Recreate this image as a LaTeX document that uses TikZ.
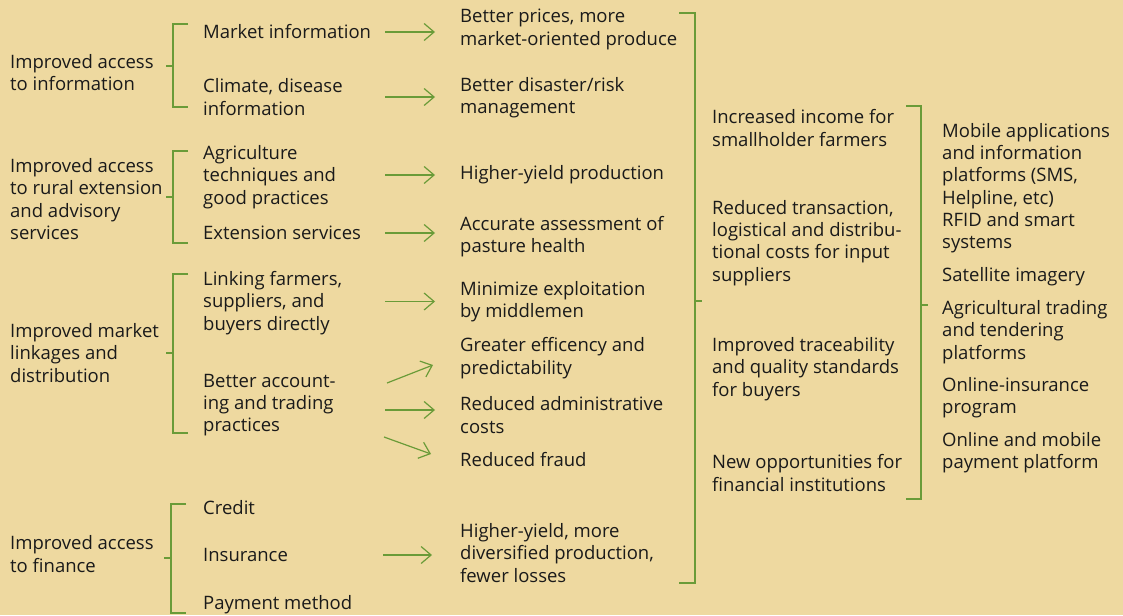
\documentclass[tikz,border=0pt]{standalone}
\usepackage{fontspec}
\setmainfont{Open Sans}
\usetikzlibrary{arrows.meta}
\definecolor{paper}{RGB}{238,217,160}
\definecolor{leaf}{RGB}{106,155,56}
\definecolor{ink}{RGB}{26,26,26}
\tikzset{
  txt/.style={anchor=west, align=left, inner sep=0pt, text=ink,
    font=\fontsize{18.5}{22.3}\selectfont},
  brk/.style={draw=leaf, line width=1.4pt},
  arr/.style={draw=leaf, line width=1.2pt, -{Straight Barb[length=10pt,width=17pt,line width=1.2pt]}}
}
\begin{document}
\begin{tikzpicture}[x=1pt,y=-1pt]
            % Paper and frame
            \fill[paper] (0,0) rectangle (1123,615);
            \useasboundingbox (0,0) rectangle (1123,615);

            % Areas of access
            \node[txt] (g1) at (10,72.5) {Improved access\\to information};
            \node[txt] (g2) at (10,199) {Improved access\\to rural extension\\and advisory\\services};
            \node[txt] (g3) at (10,353) {Improved market\\linkages and\\distribution};
            \node[txt] (g4) at (10,554) {Improved access\\to finance};

            % Services
            \node[txt] (mi) at (203,32) {Market information};
            \node[txt] (cd) at (203,97) {Climate, disease\\information};
            \node[txt] (ag) at (203,177) {Agriculture\\techniques and\\good practices};
            \node[txt] (es) at (203,233) {Extension services};
            \node[txt] (lf) at (203,303) {Linking farmers,\\suppliers, and\\buyers directly};
            \node[txt] (ba) at (203,405) {Better account-\\ing and trading\\practices};
            \node[txt] (cr) at (203,508) {Credit};
            \node[txt] (in) at (203,555) {Insurance};
            \node[txt] (pm) at (203,605) {Payment method};

            % Outcomes
            \node[txt] (bp) at (460,29.5) {Better prices, more\\market-oriented produce};
            \node[txt] (bd) at (460,97.5) {Better disaster/risk\\management};
            \node[txt] (hy) at (460,175) {Higher-yield production};
            \node[txt] (aa) at (460,236.5) {Accurate assessment of\\pasture health};
            \node[txt] (me) at (460,301.5) {Minimize exploitation\\by middlemen};
            \node[txt] (ge) at (460,358) {Greater efficency and\\predictability};
            \node[txt] (rc) at (460,415) {Reduced administrative\\costs};
            \node[txt] (rf) at (460,460) {Reduced fraud};
            \node[txt] (hd) at (460,553) {Higher-yield, more\\diversified production,\\fewer losses};

            % Benefits
            \node[txt] (ii) at (712,128) {Increased income for\\smallholder farmers};
            \node[txt] (rt) at (712,243) {Reduced transaction,\\logistical and distribu-\\tional costs for input\\suppliers};
            \node[txt] (it) at (712,369) {Improved traceability\\and quality standards\\for buyers};
            \node[txt] (no) at (712,473) {New opportunities for\\financial institutions};

            % Technologies
            \node[txt] (ma) at (942,166) {Mobile applications\\and information\\platforms (SMS,\\Helpline, etc)};
            \node[txt] (rs) at (942,233) {RFID and smart\\systems};
            \node[txt] (si) at (942,277) {Satellite imagery};
            \node[txt] (at) at (942,332) {Agricultural trading\\and tendering\\platforms};
            \node[txt] (oi) at (942,398) {Online-insurance\\program};
            \node[txt] (om) at (942,453) {Online and mobile\\payment platform};

            % Arrows from services to outcomes
            \draw[arr] ([xshift=-75pt]bp.west |- mi) -- ([xshift=-25pt]bp.west |- mi);
            \draw[arr] ([xshift=-75pt]bd.west |- cd) -- ([xshift=-25pt]bd.west |- cd);
            \draw[arr] ([xshift=-75pt]hy.west) -- ([xshift=-25pt]hy.west);
            \draw[arr] ([xshift=-75pt]aa.west |- es) -- ([xshift=-25pt]aa.west |- es);
            \draw[arr] ([xshift=-75pt]me.west) -- ([xshift=-25pt]me.west);
            \draw[arr] ([xshift=-73pt,yshift=22pt]ge.west |- ba) -- ([xshift=-27pt,yshift=-7pt]ge.west);
            \draw[arr] ([xshift=-75pt,yshift=-5pt]rc.west |- ba) -- ([xshift=-25pt,yshift=-5pt]rc.west |- ba);
            \draw[arr] ([xshift=-76pt,yshift=-32pt]rf.west |- ba) -- ([xshift=-29pt,yshift=6pt]rf.west);
            \draw[arr] ([xshift=-77pt]hd.west |- in) -- ([xshift=-28pt]hd.west |- in);

            % Brackets on the left
            \draw[brk] (188,24) -| (173,107) -- (188,107);
            \draw[brk] (166,66) -- (173,66);
            \draw[brk] (188,151) -| (173,243) -- (188,243);
            \draw[brk] (166,197) -- (173,197);
            \draw[brk] (188,274) -| (173,433) -- (188,433);
            \draw[brk] (166,353) -- (173,353);
            \draw[brk] (186,504) -| (171,613) -- (186,613);
            \draw[brk] (164,558) -- (171,558);

            % Brackets on the right
            \draw[brk] (679,13) -| (695,583) -- (679,583);
            \draw[brk] (695,301) -- (702,301);
            \draw[brk] (906,106) -| (921,499) -- (906,499);
            \draw[brk] (921,305) -- (928,305);
        \end{tikzpicture}
\end{document}
